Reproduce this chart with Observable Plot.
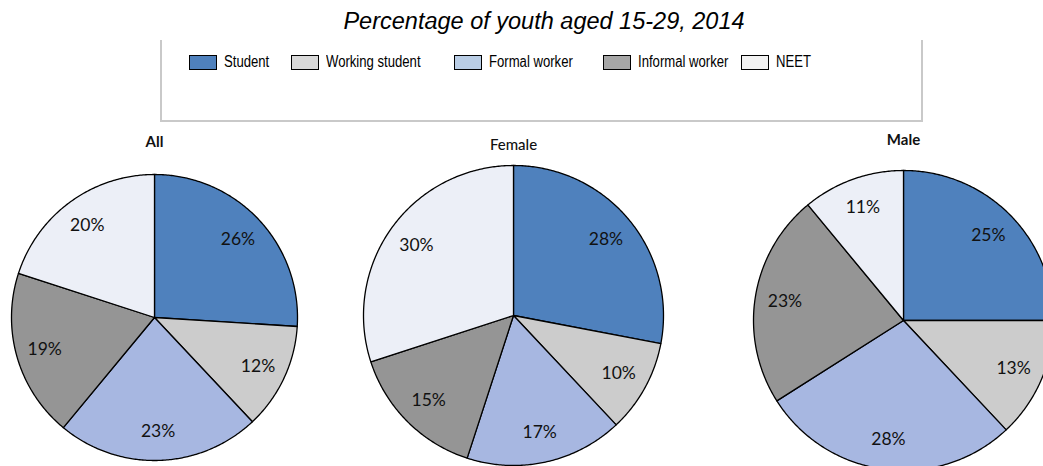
<!DOCTYPE html>
<html><head><meta charset="utf-8">
<script src="https://cdn.jsdelivr.net/npm/d3@7"></script>
<script src="https://cdn.jsdelivr.net/npm/@observablehq/plot@0.6"></script>
<style>
body{margin:0;background:#fff;}
#wrap{position:relative;width:1043px;height:466px;overflow:hidden;background:#fff;}
#chart{position:absolute;top:0;left:0;}
#title{position:absolute;top:8px;left:0;width:1088px;text-align:center;font:italic 23.5px "Liberation Sans",Arial,sans-serif;color:#000;white-space:nowrap;}
#box{position:absolute;left:160px;top:40px;width:759px;height:80px;border:2px solid #c9c9c9;border-top:none;}
.item{position:absolute;top:54px;height:16px;display:flex;align-items:center;white-space:nowrap;}
.sw{width:26px;height:13px;border:1.5px solid #000;margin-right:7px;flex:none;}
.tx{display:inline-block;font:16px "Liberation Sans Narrow","Arial Narrow","Liberation Sans",sans-serif;color:#000;transform:scaleX(0.82);transform-origin:left center;}
</style>
</head><body>
<div id="wrap">
  <div id="chart"></div>
  <div id="box"></div>
  <div id="title">Percentage of youth aged 15-29, 2014</div>
</div>
<script>
const categories = ["Student", "Working student", "Formal worker", "Informal worker", "NEET"];
const groups = ["All", "Female", "Male"];
const allValues = [26, 12, 23, 19, 20];
const femaleValues = [28, 10, 17, 15, 30];
const maleValues = [25, 13, 28, 23, 11];

const pieColors = ["#4f81bd", "#cccccc", "#a7b7e1", "#959595", "#eceff7"];
const legendColors = ["#4f81bd", "#d9d9d9", "#b9cde5", "#a6a6a6", "#f2f2f2"];
// legend item left edges (layout)
const legendLeft = [189, 291, 454, 603, 741];

// layout (pixel positions of each pie), separate from data
const layout = [
  {cx: 154, cy: 317, r: 143, ty: 142, weight: "bold"},
  {cx: 513, cy: 315, r: 150, ty: 145, weight: "normal"},
  {cx: 903, cy: 320, r: 150, ty: 140, weight: "bold"}
];
const W = 1043, H = 466, labelFactor = 0.8;

const series = [allValues, femaleValues, maleValues];
const polys = [], labels = [], titles = [];
series.forEach((vals, g) => {
  const L = layout[g];
  const arcs = d3.pie().sort(null)(vals);
  arcs.forEach((a, i) => {
    const key = groups[g] + "-" + categories[i];
    const cat = categories[i];
    polys.push({key, cat, x: L.cx, y: L.cy});
    const n = Math.max(2, Math.ceil((a.endAngle - a.startAngle) / 0.01));
    for (let k = 0; k <= n; k++) {
      const t = a.startAngle + (a.endAngle - a.startAngle) * k / n;
      polys.push({key, cat, x: L.cx + L.r * Math.sin(t), y: L.cy - L.r * Math.cos(t)});
    }
    polys.push({key, cat, x: L.cx, y: L.cy});
    const m = (a.startAngle + a.endAngle) / 2;
    labels.push({x: L.cx + labelFactor * L.r * Math.sin(m), y: L.cy - labelFactor * L.r * Math.cos(m), text: vals[i] + "%"});
  });
  titles.push({x: L.cx, y: L.ty, text: groups[g], weight: L.weight});
});

const chart = Plot.plot({
  width: W, height: H, margin: 0,
  style: {background: "transparent", overflow: "hidden"},
  x: {domain: [0, W], range: [0, W], axis: null},
  y: {domain: [0, H], range: [0, H], axis: null},
  color: {domain: categories, range: pieColors},
  marks: [
    Plot.line(polys, {x: "x", y: "y", z: "key", fill: "cat", stroke: "#000", strokeWidth: 1.3, strokeLinejoin: "round", curve: "linear"}),
    Plot.text(labels, {x: "x", y: "y", text: "text", fontSize: 17.5, fontFamily: "Lato, 'Open Sans', sans-serif", fill: "#111"}),
    Plot.text(titles.filter(d => d.weight === "bold"), {x: "x", y: "y", text: "text", fontSize: 15, fontWeight: "bold", fontFamily: "Lato, sans-serif", fill: "#111"}),
    Plot.text(titles.filter(d => d.weight !== "bold"), {x: "x", y: "y", text: "text", fontSize: 15, fontWeight: 500, fontFamily: "Lato, sans-serif", fill: "#111", letterSpacing: "0.6px"})
  ]
});
document.getElementById("chart").appendChild(chart);

const wrap = document.getElementById("wrap");
categories.forEach((c, i) => {
  const it = document.createElement("div");
  it.className = "item";
  it.style.left = legendLeft[i] + "px";
  const sw = document.createElement("div");
  sw.className = "sw";
  sw.style.background = legendColors[i];
  const tx = document.createElement("span");
  tx.className = "tx";
  tx.textContent = c;
  it.appendChild(sw); it.appendChild(tx);
  wrap.appendChild(it);
});
</script>
</body></html>
